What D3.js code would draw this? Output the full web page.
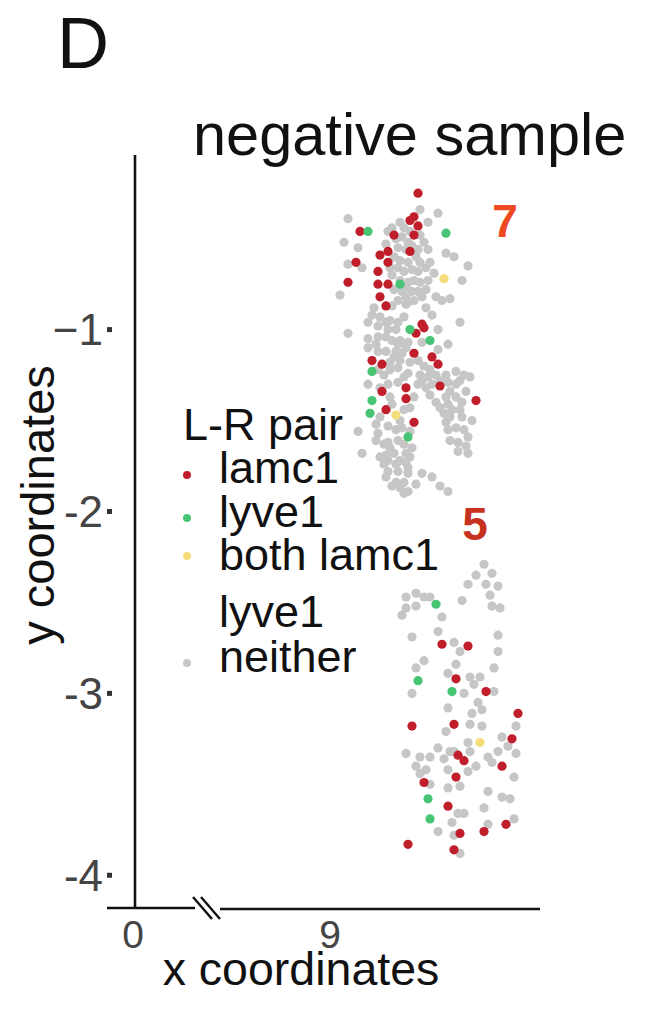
<!DOCTYPE html>
<html>
<head>
<meta charset="utf-8">
<script src="https://cdn.jsdelivr.net/npm/d3@7"></script>
<style>
body { margin: 0; background: #fff; }
svg { display: block; }
text { font-family: "Liberation Sans", Arial, Helvetica, sans-serif; }
</style>
</head>
<body>
<div id="chart"></div>
<script>
// cells with neither ligand nor receptor
var neitherPts = [
  [9.45,-0.34],[9.54,-0.36],[9.09,-0.39],[9.49,-0.41],[9.35,-0.41],[9.37,-0.44],[9.29,-0.46],[9.07,-0.52],
  [9.14,-0.55],[9.47,-0.52],[9.58,-0.58],[9.62,-0.60],[9.09,-0.64],[9.16,-0.66],[9.69,-0.65],[9.52,-0.69],
  [9.66,-0.73],[9.05,-0.81],[9.22,-0.88],[9.31,-0.87],[9.38,-0.86],[9.39,-0.85],[9.41,-0.79],[9.46,-0.82],
  [9.53,-0.82],[9.56,-0.84],[9.60,-0.83],[9.48,-0.88],[9.51,-0.92],[9.19,-0.96],[9.24,-0.98],[9.28,-0.96],
  [9.30,-0.95],[9.34,-0.96],[9.37,-0.93],[9.65,-0.96],[9.09,-1.02],[9.54,-1.00],[9.19,-1.05],[9.24,-1.04],
  [9.28,-1.04],[9.31,-1.06],[9.35,-1.06],[9.39,-1.07],[9.46,-1.07],[9.59,-1.08],[9.19,-1.10],[9.24,-1.12],
  [9.28,-1.12],[9.33,-1.12],[9.36,-1.13],[9.54,-1.11],[9.30,-1.18],[9.40,-1.18],[9.27,-1.25],[9.39,-1.24],
  [9.58,-1.25],[9.63,-1.23],[9.67,-1.25],[9.19,-1.30],[9.25,-1.32],[9.29,-1.30],[9.34,-1.29],[9.68,-1.34],
  [9.30,-1.37],[9.31,-1.41],[9.42,-1.37],[9.40,-1.43],[9.25,-1.48],[9.66,-1.48],[9.71,-1.50],[9.57,-1.46],
  [9.60,-1.48],[9.29,-1.53],[9.23,-1.52],[9.24,-1.57],[9.14,-1.56],[9.59,-1.55],[9.63,-1.54],[9.67,-1.55],
  [9.69,-1.59],[9.23,-1.61],[9.29,-1.62],[9.34,-1.61],[9.64,-1.62],[9.68,-1.64],[9.64,-1.67],[9.69,-1.68],
  [9.16,-1.68],[9.28,-1.69],[9.32,-1.68],[9.38,-1.68],[9.27,-1.74],[9.33,-1.74],[9.38,-1.73],[9.29,-1.78],
  [9.34,-1.78],[9.39,-1.79],[9.33,-1.84],[9.37,-1.84],[9.46,-1.79],[9.51,-1.81],[9.43,-1.85],[9.55,-1.86],
  [9.59,-1.89],[9.37,-1.90],[9.39,-1.89],
  [9.33,-0.50],[9.36,-0.49],[9.39,-0.52],[9.34,-0.55],[9.38,-0.56],[9.41,-0.54],[9.44,-0.56],[9.32,-0.60],
  [9.35,-0.62],[9.39,-0.63],[9.43,-0.60],[9.45,-0.63],[9.34,-0.66],[9.37,-0.68],[9.41,-0.67],[9.44,-0.68],
  [9.48,-0.66],[9.31,-0.70],[9.35,-0.73],[9.39,-0.74],[9.42,-0.73],[9.45,-0.74],[9.49,-0.73],[9.32,-0.78],
  [9.36,-0.79],[9.38,-0.77],[9.44,-0.79],[9.48,-0.78],[9.34,-0.84],[9.38,-0.82],[9.42,-0.84],[9.31,-0.44],
  [9.40,-0.46],[9.45,-0.48],[9.49,-0.56],[9.50,-0.63],[9.28,-0.53],[9.30,-0.66],
  [9.21,-0.92],[9.25,-0.93],[9.33,-1.00],[9.29,-1.00],[9.23,-1.08],[9.34,-1.08],[9.38,-1.10],[9.32,-1.15],
  [9.35,-1.17],[9.24,-1.22],[9.30,-1.22],[9.34,-1.21],[9.37,-1.26],
  [9.44,-1.17],[9.47,-1.20],[9.50,-1.22],[9.45,-1.25],[9.49,-1.26],[9.53,-1.25],[9.55,-1.28],[9.51,-1.30],
  [9.48,-1.32],[9.44,-1.30],[9.59,-1.29],[9.63,-1.30],[9.65,-1.28],[9.70,-1.26],[9.60,-1.34],[9.58,-1.37],
  [9.63,-1.37],[9.66,-1.40],[9.59,-1.41],[9.53,-1.40],[9.61,-1.44],[9.65,-1.44],[9.55,-1.43],[9.58,-1.51],
  [9.60,-1.61],[9.50,-1.36],[9.46,-1.28],
  [9.27,-1.63],[9.30,-1.65],[9.37,-1.63],[9.25,-1.70],[9.29,-1.72],[9.35,-1.72],[9.40,-1.70],[9.28,-1.81],
  [9.31,-1.86],[9.35,-1.87],[9.39,-1.76],[9.41,-1.65],[9.33,-1.55],[9.36,-1.54],[9.40,-1.56],[9.35,-1.50],
  [9.37,-1.44],
  [9.77,-2.29],[9.81,-2.34],[9.73,-2.35],[9.69,-2.40],[9.78,-2.40],[9.84,-2.41],[9.80,-2.46],[9.38,-2.47],
  [9.43,-2.45],[9.47,-2.47],[9.50,-2.47],[9.66,-2.49],[9.38,-2.53],[9.43,-2.52],[9.36,-2.57],[9.81,-2.52],
  [9.85,-2.53],[9.56,-2.58],[9.54,-2.66],[9.41,-2.69],[9.84,-2.68],[9.62,-2.72],[9.65,-2.77],[9.84,-2.77],
  [9.47,-2.82],[9.43,-2.86],[9.63,-2.84],[9.82,-2.86],[9.59,-2.89],[9.70,-2.91],[9.75,-2.91],[9.72,-2.95],
  [9.41,-3.00],[9.67,-3.00],[9.82,-2.99],[9.74,-3.05],[9.59,-3.08],[9.71,-3.11],[9.76,-3.09],[9.70,-3.17],
  [9.76,-3.18],[9.93,-3.18],[9.58,-3.21],[9.69,-3.27],[9.86,-3.24],[9.89,-3.29],[9.38,-3.33],[9.54,-3.30],
  [9.60,-3.32],[9.62,-3.32],[9.70,-3.32],[9.45,-3.35],[9.50,-3.35],[9.57,-3.36],[9.84,-3.32],[9.93,-3.33],
  [9.79,-3.35],[9.81,-3.38],[9.43,-3.40],[9.48,-3.42],[9.45,-3.44],[9.59,-3.42],[9.69,-3.43],[9.73,-3.40],
  [9.50,-3.50],[9.59,-3.52],[9.65,-3.51],[9.92,-3.46],[9.79,-3.54],[9.86,-3.57],[9.90,-3.58],[9.64,-3.66],
  [9.67,-3.66],[9.77,-3.63],[9.61,-3.71],[9.92,-3.69],[9.79,-3.72],[9.54,-3.76],[9.62,-3.78],[9.65,-3.88]
];

var lamc1Pts = [
  [9.44,-0.25],[9.40,-0.40],[9.42,-0.38],[9.44,-0.43],[9.15,-0.46],[9.32,-0.48],[9.42,-0.48],[9.29,-0.57],
  [9.25,-0.59],[9.40,-0.57],[9.13,-0.63],[9.29,-0.63],[9.24,-0.68],[9.09,-0.74],[9.24,-0.75],[9.29,-0.75],
  [9.25,-0.82],[9.28,-0.87],[9.46,-0.97],[9.47,-0.99],[9.43,-1.02],[9.42,-1.13],[9.51,-1.15],[9.54,-1.19],
  [9.21,-1.17],[9.26,-1.19],[9.38,-1.32],[9.55,-1.31],[9.26,-1.34],[9.73,-1.39],[9.38,-1.38],[9.28,-1.44],
  [9.42,-1.51],
  [9.56,-2.73],[9.69,-2.74],[9.63,-2.92],[9.78,-2.99],[9.94,-3.11],[9.41,-3.18],[9.62,-3.17],[9.91,-3.25],
  [9.64,-3.34],[9.67,-3.37],[9.86,-3.40],[9.63,-3.46],[9.47,-3.49],[9.59,-3.62],[9.88,-3.72],[9.65,-3.77],
  [9.77,-3.76],[9.39,-3.83],[9.62,-3.86]
];

var lyve1Pts = [
  [9.19,-0.46],[9.58,-0.47],[9.35,-0.75],[9.40,-1.00],[9.50,-1.06],[9.21,-1.23],[9.21,-1.39],[9.20,-1.46],
  [9.39,-1.59],
  [9.53,-2.51],[9.44,-2.93],[9.61,-2.99],[9.49,-3.58],[9.50,-3.69]
];

var bothPts = [[9.57,-0.72],[9.33,-1.47],[9.75,-3.27]];

var yTicks = [-1, -2, -3, -4];
var yTickLabels = ["\u22121", "-2", "-3", "-4"];
var xTicksLeft = [0];
var xTicksRight = [9];

var groupNames = ["lamc1", "lyve1", "both lamc1\nlyve1", "neither"];
var groupColors = ["#bf1e2a", "#47c474", "#f6dd7c", "#c6c6c6"];

var width = 656, height = 1025;

var svg = d3.select("#chart").append("svg")
    .attr("width", width)
    .attr("height", height);

// broken x axis: short piece around 0, main piece around 9
var xLeft = d3.scaleLinear().domain([-0.14, 0.30]).range([107, 195]);
var x = d3.scaleLinear().domain([8.45, 10.05]).range([220, 540]);
var y = d3.scaleLinear().domain([-4.18, -0.04]).range([908, 155]);

// panel letter + title
svg.append("text").attr("x", 57).attr("y", 68)
    .style("font-size", "72px").attr("fill", "#111").text("D");
svg.append("text").attr("x", 193).attr("y", 155)
    .style("font-size", "59.5px").attr("fill", "#111").text("negative sample");

// axes lines
var axisG = svg.append("g").attr("stroke", "#111").attr("stroke-width", 2.6);
axisG.append("line")
    .attr("x1", xLeft(0)).attr("x2", xLeft(0))
    .attr("y1", y(-0.04)).attr("y2", y(-4.18));
axisG.append("line")
    .attr("x1", xLeft.range()[0]).attr("x2", xLeft.range()[1])
    .attr("y1", y(-4.18)).attr("y2", y(-4.18));
axisG.append("line")
    .attr("x1", x.range()[0]).attr("x2", x.range()[1])
    .attr("y1", y(-4.18) + 1).attr("y2", y(-4.18) + 1);
// break marks
[0, 8].forEach(function(off) {
  axisG.append("line")
      .attr("x1", 193 + off).attr("y1", y(-4.18) - 11)
      .attr("x2", 212 + off).attr("y2", y(-4.18) + 11)
      .attr("stroke-width", 2.4);
});

// y ticks (small squares) and labels
svg.append("g").selectAll("rect").data(yTicks).join("rect")
    .attr("x", 107).attr("y", function(d) { return y(d) - 2.5; })
    .attr("width", 5).attr("height", 5).attr("fill", "#333");
svg.append("g").selectAll("text").data(yTicks).join("text")
    .attr("x", 103).attr("y", function(d) { return y(d); })
    .attr("text-anchor", "end").attr("dy", "0.35em")
    .style("font-size", "44px").attr("fill", "#444")
    .text(function(d, i) { return yTickLabels[i]; });

// x tick labels
svg.append("g").selectAll("text").data(xTicksLeft).join("text")
    .attr("x", function(d) { return xLeft(d) - 2; }).attr("y", 948)
    .attr("text-anchor", "middle").style("font-size", "39px").attr("fill", "#444")
    .text(function(d) { return d; });
svg.append("g").selectAll("text").data(xTicksRight).join("text")
    .attr("x", function(d) { return x(d); }).attr("y", 948)
    .attr("text-anchor", "middle").style("font-size", "39px").attr("fill", "#444")
    .text(function(d) { return d; });

// axis titles
svg.append("text").attr("x", 301).attr("y", 985)
    .attr("text-anchor", "middle").style("font-size", "46.5px").attr("fill", "#111")
    .text("x coordinates");
svg.append("text")
    .attr("transform", "translate(54," + 505 + ") rotate(-90)")
    .attr("text-anchor", "middle").style("font-size", "47px").attr("fill", "#111")
    .text("y coordinates");

// points: gray first, coloured on top
var ptR = 4.6;
var layers = [
  { pts: neitherPts, col: groupColors[3] },
  { pts: lamc1Pts, col: groupColors[0] },
  { pts: lyve1Pts, col: groupColors[1] },
  { pts: bothPts, col: groupColors[2] }
];
layers.forEach(function(l) {
  svg.append("g").selectAll("circle").data(l.pts).join("circle")
      .attr("cx", function(d) { return x(d[0]); })
      .attr("cy", function(d) { return y(d[1]); })
      .attr("r", ptR)
      .attr("fill", l.col);
});

// cluster labels
svg.append("text").attr("x", x(9.875)).attr("y", y(-0.49))
    .attr("text-anchor", "middle").style("font-size", "46px").style("font-weight", "bold")
    .attr("fill", "#ee4a22").text("7");
svg.append("text").attr("x", x(9.725)).attr("y", y(-2.155))
    .attr("text-anchor", "middle").style("font-size", "46px").style("font-weight", "bold")
    .attr("fill", "#c7321f").text("5");

// legend
var leg = svg.append("g");
leg.append("text").attr("x", 183).attr("y", 440)
    .style("font-size", "45px").attr("fill", "#111").text("L-R pair");
var keyY = [475, 518, 556, 663];
var labY = [483, 527, 570, 672];
groupNames.forEach(function(name, i) {
  leg.append("circle").attr("cx", 187).attr("cy", keyY[i]).attr("r", 4)
      .attr("fill", groupColors[i]);
  var t = leg.append("text").attr("x", 219).attr("y", labY[i])
      .style("font-size", "45px").attr("fill", "#111");
  name.split("\n").forEach(function(line, j) {
    t.append("tspan").attr("x", 219).attr("dy", j === 0 ? 0 : 57).text(line);
  });
});
</script>
</body>
</html>
